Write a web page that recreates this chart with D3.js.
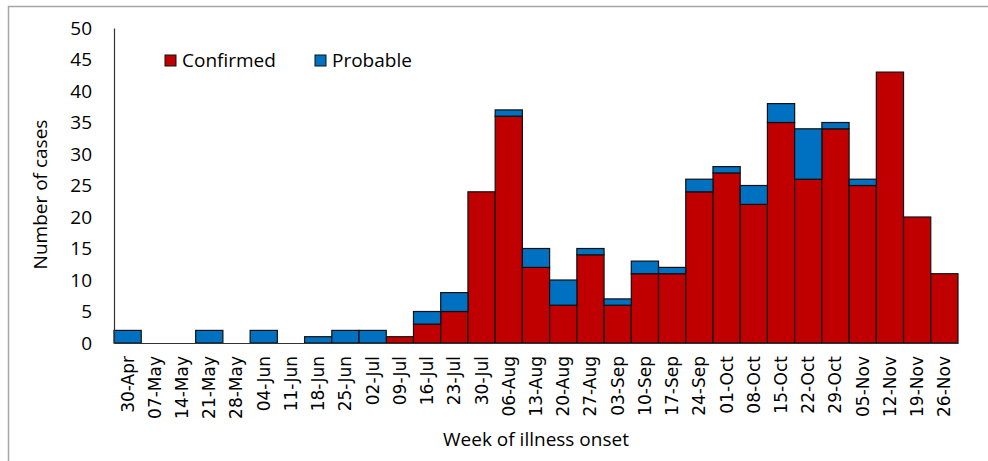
<!DOCTYPE html>
<html>
<head>
<meta charset="utf-8">
<script src="https://cdn.jsdelivr.net/npm/d3@7"></script>
<style>
  body { margin: 0; background: #fff; }
  svg { display: block; }
  .tick-y { font-family: "Open Sans", Lato, sans-serif; font-size: 19px; fill: #000; }
  .tick-x { font-family: "DejaVu Sans", Verdana, sans-serif; font-size: 17px; fill: #000; }
  .title { font-family: "Open Sans", Lato, sans-serif; font-size: 19px; fill: #000; }
</style>
</head>
<body>
<svg id="chart" width="988" height="461"></svg>
<script>
var weeks = ["30-Apr","07-May","14-May","21-May","28-May","04-Jun","11-Jun","18-Jun","25-Jun","02-Jul",
    "09-Jul","16-Jul","23-Jul","30-Jul","06-Aug","13-Aug","20-Aug","27-Aug","03-Sep","10-Sep",
    "17-Sep","24-Sep","01-Oct","08-Oct","15-Oct","22-Oct","29-Oct","05-Nov","12-Nov","19-Nov","26-Nov"];
var confirmed = [0,0,0,0,0,0,0,0,0,0, 1,3,5,24,36,12,6,14,6,11, 11,24,27,22,35,26,34,25,43,20,11];
var probable  = [2,0,0,2,0,2,0,1,2,2, 0,2,3,0,1,3,4,1,1,2, 1,2,1,3,3,8,1,1,0,0,0];
var yTicks = [0,5,10,15,20,25,30,35,40,45,50];
var seriesNames = ["Confirmed","Probable"];
var seriesColors = ["#C00000","#0070C0"];

var svg = d3.select("#chart");

// outer frame (only top and left visible in the picture)
svg.append("rect")
    .attr("x", 8.5).attr("y", 6.5)
    .attr("width", 1000).attr("height", 500)
    .attr("fill", "none")
    .attr("stroke", "#a6a6a6")
    .attr("stroke-width", 1.5);

var plotLeft = 114, plotRight = 958, plotTop = 28, plotBottom = 343;

var x = d3.scaleBand().domain(weeks).range([plotLeft, plotRight]).padding(0);
var y = d3.scaleLinear().domain([0, 50]).range([plotBottom, plotTop]);

var rows = weeks.map(function (w, i)
{
    return { week: w, Confirmed: confirmed[i], Probable: probable[i] };
});
var stacked = d3.stack().keys(seriesNames)(rows);

var layers = svg.append("g")
    .selectAll("g")
    .data(stacked)
    .enter().append("g")
    .attr("fill", function (d, i) { return seriesColors[i]; });

layers.selectAll("rect")
    .data(function (d) { return d.filter(function (p) { return p[1] > p[0]; }); })
    .enter().append("rect")
    .attr("x", function (d) { return x(d.data.week); })
    .attr("width", x.bandwidth())
    .attr("y", function (d) { return y(d[1]); })
    .attr("height", function (d) { return y(d[0]) - y(d[1]); })
    .attr("stroke", "#111")
    .attr("stroke-width", 1.2);

// y axis
var yAxis = svg.append("g")
    .attr("transform", "translate(" + plotLeft + ",0)")
    .call(d3.axisLeft(y).tickValues(yTicks).tickSize(0).tickPadding(22));
yAxis.select(".domain").attr("stroke", "#333").attr("stroke-width", 1.2);
yAxis.selectAll("text").attr("class", "tick-y").attr("font-family", null).attr("font-size", null);

// x axis
var xAxis = svg.append("g")
    .attr("transform", "translate(0," + plotBottom + ")")
    .call(d3.axisBottom(x).tickSize(0).tickPadding(0));
xAxis.select(".domain").attr("stroke", "#333").attr("stroke-width", 1.2);
xAxis.selectAll("text")
    .attr("class", "tick-x")
    .attr("font-family", null).attr("font-size", null)
    .attr("transform", "rotate(-90)")
    .attr("text-anchor", "end")
    .attr("x", -13)
    .attr("y", 0)
    .attr("dy", "0.35em");

// axis titles
svg.append("text")
    .attr("class", "title")
    .attr("text-anchor", "middle")
    .attr("transform", "translate(47," + ((plotTop + plotBottom) / 2 + 9) + ") rotate(-90)")
    .text("Number of cases");

svg.append("text")
    .attr("class", "title")
    .attr("text-anchor", "middle")
    .attr("x", (plotLeft + plotRight) / 2)
    .attr("y", 446)
    .text("Week of illness onset");

// legend
var legendX = [165, 315];
var legend = svg.append("g")
    .selectAll("g")
    .data(seriesNames)
    .enter().append("g")
    .attr("transform", function (d, i) { return "translate(" + legendX[i] + ",55)"; });

legend.append("rect")
    .attr("width", 11).attr("height", 11)
    .attr("fill", function (d, i) { return seriesColors[i]; })
    .attr("stroke", "#111")
    .attr("stroke-width", 1);

legend.append("text")
    .attr("class", "title")
    .attr("x", 17)
    .attr("y", 12)
    .text(function (d) { return d; });
</script>
</body>
</html>
